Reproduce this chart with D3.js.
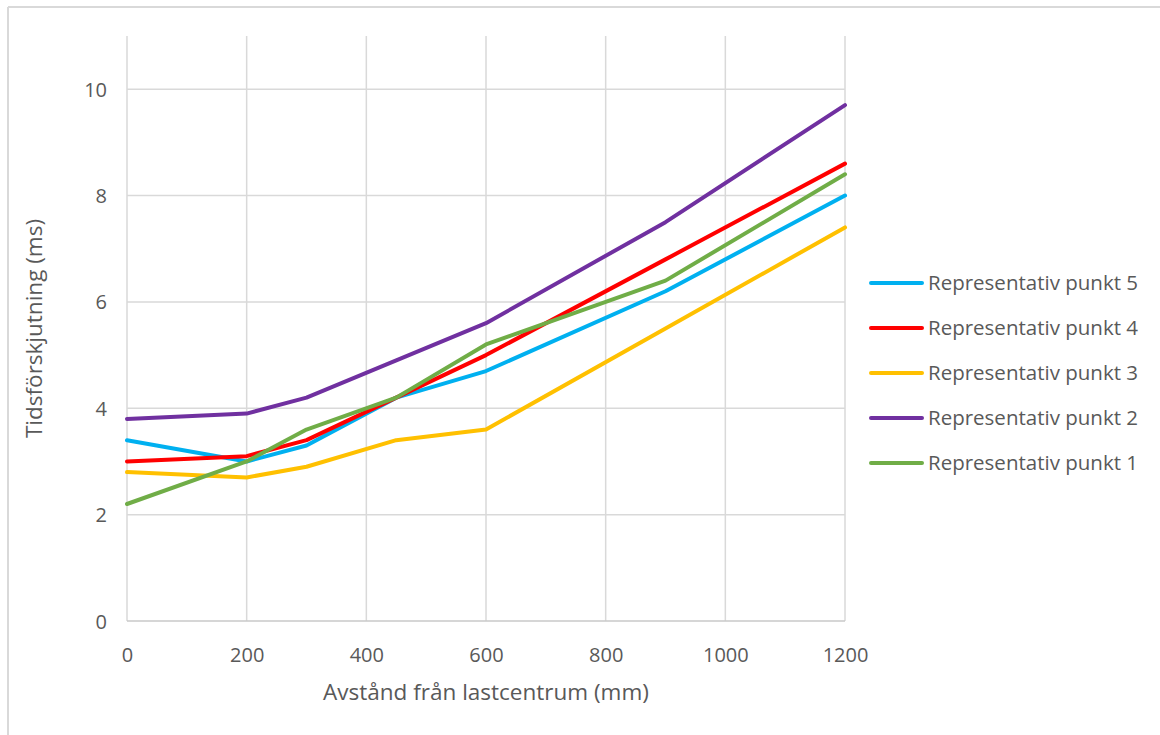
<!DOCTYPE html>
<html>
<head>
<meta charset="utf-8">
<script src="https://cdn.jsdelivr.net/npm/d3@7"></script>
<style>
  body { margin: 0; background: #fff; }
  text { font-family: "Open Sans", sans-serif; fill: #595959; }
</style>
</head>
<body>
<div id="chart"></div>
<script>
var distances = [0, 200, 300, 450, 600, 900, 1200];
var punkt5 = [3.4, 3.0, 3.3, 4.2, 4.7, 6.2, 8.0];
var punkt4 = [3.0, 3.1, 3.4, 4.2, 5.0, 6.8, 8.6];
var punkt3 = [2.8, 2.7, 2.9, 3.4, 3.6, 5.5, 7.4];
var punkt2 = [3.8, 3.9, 4.2, 4.9, 5.6, 7.5, 9.7];
var punkt1 = [2.2, 3.0, 3.6, 4.2, 5.2, 6.4, 8.4];
var seriesNames = ["Representativ punkt 5", "Representativ punkt 4", "Representativ punkt 3", "Representativ punkt 2", "Representativ punkt 1"];
var seriesColors = ["#00B0F0", "#FF0000", "#FFC000", "#7030A0", "#70AD47"];
var xTicks = [0, 200, 400, 600, 800, 1000, 1200];
var yTicks = [0, 2, 4, 6, 8, 10];

var width = 1160, height = 735;
var seriesValues = [punkt5, punkt4, punkt3, punkt2, punkt1];

var svg = d3.select("#chart").append("svg")
    .attr("width", width)
    .attr("height", height);

// outer frame (top and left edges visible)
svg.append("line").attr("x1", 8).attr("x2", width).attr("y1", 7).attr("y2", 7)
    .attr("stroke", "#d9d9d9").attr("stroke-width", 2);
svg.append("line").attr("x1", 8).attr("x2", 8).attr("y1", 7).attr("y2", height)
    .attr("stroke", "#d9d9d9").attr("stroke-width", 2);

var x = d3.scaleLinear().domain([0, 1200]).range([127, 845]);
var y = d3.scaleLinear().domain([0, 11]).range([621, 36]);

// vertical grid
svg.selectAll(".vgrid")
    .data(xTicks)
    .enter()
    .append("line")
    .attr("x1", d => x(d)).attr("x2", d => x(d))
    .attr("y1", y(11)).attr("y2", y(0))
    .attr("stroke", "#d9d9d9").attr("stroke-width", 1.5);

// horizontal grid
svg.selectAll(".hgrid")
    .data(yTicks)
    .enter()
    .append("line")
    .attr("x1", x(0)).attr("x2", x(1200))
    .attr("y1", d => y(d)).attr("y2", d => y(d))
    .attr("stroke", d => d === 0 ? "#c8c8c8" : "#d9d9d9")
    .attr("stroke-width", 1.5);

// x axis labels
var xAxis = d3.axisBottom(x).tickValues(xTicks).tickSize(0).tickPadding(0).tickFormat(d3.format("d"));
var gx = svg.append("g").attr("transform", "translate(0," + 662 + ")").call(xAxis);
gx.select(".domain").remove();
gx.selectAll("text").attr("dy", 0).style("font-size", "20px").style("font-family", "'Open Sans', sans-serif").attr("fill", "#595959");

var yAxis = d3.axisLeft(y).tickValues(yTicks).tickSize(0).tickPadding(0).tickFormat(d3.format("d"));
var gy = svg.append("g").attr("transform", "translate(" + 107 + ",0)").call(yAxis);
gy.select(".domain").remove();
gy.selectAll("text").attr("dy", "0.35em").style("font-size", "20px").style("font-family", "'Open Sans', sans-serif").attr("fill", "#595959");

// lines
var line = d3.line()
    .x((d, i) => x(distances[i]))
    .y(d => y(d));

svg.selectAll(".series")
    .data(seriesValues)
    .enter()
    .append("path")
    .attr("d", d => line(d))
    .attr("fill", "none")
    .attr("stroke", (d, i) => seriesColors[i])
    .attr("stroke-width", 4)
    .attr("stroke-linejoin", "round")
    .attr("stroke-linecap", "round");

// axis titles
svg.append("text")
    .attr("x", (x(0) + x(1200)) / 2)
    .attr("y", 700)
    .attr("text-anchor", "middle")
    .style("font-size", "22.5px")
    .text("Avstånd från lastcentrum (mm)");

svg.append("text")
    .attr("transform", "translate(" + 42 + "," + (y(0) + y(11)) / 2 + ") rotate(-90)")
    .attr("text-anchor", "middle")
    .style("font-size", "22.5px")
    .text("Tidsförskjutning (ms)");

// legend
var legend = svg.selectAll(".legend")
    .data(seriesNames)
    .enter()
    .append("g")
    .attr("transform", (d, i) => "translate(871," + (283 + i * 45) + ")");

legend.append("line")
    .attr("x1", 0).attr("x2", 51)
    .attr("stroke", (d, i) => seriesColors[i])
    .attr("stroke-width", 4)
    .attr("stroke-linecap", "round");

legend.append("text")
    .attr("x", 57)
    .attr("dy", "0.35em")
    .style("font-size", "20.5px")
    .text(d => d);
</script>
</body>
</html>
